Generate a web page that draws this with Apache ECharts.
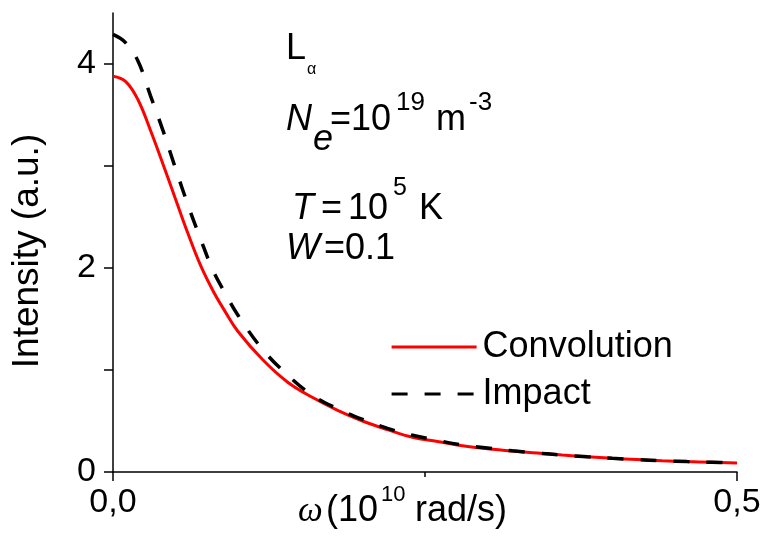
<!DOCTYPE html>
<html>
<head>
<meta charset="utf-8">
<script src="https://cdn.jsdelivr.net/npm/echarts@6/dist/echarts.min.js"></script>
<style>
html,body{margin:0;padding:0;background:#fff;}
#chart{width:764px;height:538px;}
</style>
</head>
<body>
<div id="chart"></div>
<script>
const omega = [0, 0.01, 0.02, 0.03, 0.04, 0.05, 0.06, 0.07, 0.08, 0.09, 0.10, 0.12, 0.14, 0.16, 0.18, 0.20, 0.22, 0.24, 0.26, 0.28, 0.30, 0.32, 0.34, 0.36, 0.38, 0.40, 0.42, 0.44, 0.46, 0.48, 0.50];
const convolution = [3.88, 3.83, 3.65, 3.35, 3.02, 2.68, 2.34, 2.03, 1.78, 1.57, 1.38, 1.10, 0.88, 0.73, 0.605, 0.50, 0.415, 0.34, 0.30, 0.257, 0.228, 0.205, 0.186, 0.166, 0.149, 0.134, 0.122, 0.111, 0.102, 0.095, 0.088];
const impact = [4.29, 4.21, 4.03, 3.69, 3.35, 2.98, 2.62, 2.29, 1.98, 1.75, 1.54, 1.20, 0.95, 0.75, 0.62, 0.515, 0.428, 0.36, 0.31, 0.265, 0.235, 0.208, 0.186, 0.166, 0.149, 0.134, 0.122, 0.111, 0.102, 0.095, 0.088];
const xTickLabels = [0, 0.5];
const yTicks = [0, 1, 2, 3, 4];
const yTickLabels = [0, 2, 4];

const sans = 'Liberation Sans, Arial, sans-serif';
const chart = echarts.init(document.getElementById('chart'));

function txt(text, x, y, fs, opts) {
  return Object.assign({
    type: 'text', x: x, y: y, silent: true,
    style: Object.assign({
      text: text, fontSize: fs, fontFamily: sans, fill: '#000',
      align: 'left', verticalAlign: 'middle'
    }, (opts && opts.style) || {})
  }, (opts && opts.el) || {});
}
const it = { style: { fontStyle: 'italic' } };

chart.setOption({
  animation: false,
  backgroundColor: '#fff',
  grid: { left: 113, right: 27, top: 13, bottom: 66 },
  xAxis: {
    type: 'value', min: 0, max: 0.5, interval: 0.5,
    axisLine: { show: true, lineStyle: { color: '#000', width: 1.5 } },
    axisTick: { show: true, length: 9, lineStyle: { color: '#000', width: 1.5 } },
    minorTick: { show: true, splitNumber: 2, length: 5, lineStyle: { color: '#000', width: 1.5 } },
    splitLine: { show: false },
    axisLabel: {
      customValues: xTickLabels,
      fontSize: 34, fontFamily: sans, color: '#000', margin: 14,
      formatter: v => v.toFixed(1).replace('.', ',')
    }
  },
  yAxis: {
    type: 'value', min: 0, max: 4.5, interval: 1,
    axisLine: { show: true, lineStyle: { color: '#000', width: 1.5 } },
    axisTick: { show: true, customValues: yTicks, length: 9, lineStyle: { color: '#000', width: 1.5 } },
    splitLine: { show: false },
    axisLabel: {
      customValues: yTickLabels,
      fontSize: 34, fontFamily: sans, color: '#000', margin: 17,
      formatter: v => String(v)
    }
  },
  legend: {
    orient: 'vertical', left: 385, top: 324,
    itemWidth: 85, itemHeight: 2, itemGap: 11,
    lineStyle: { width: 3.2 },
    textStyle: { fontSize: 36, fontFamily: sans, color: '#000', padding: [0, 0, 0, 1] },
    data: ['Convolution', 'Impact']
  },
  series: [
    {
      name: 'Convolution', type: 'line', smooth: 0.4, showSymbol: false, symbol: 'none',
      data: omega.map((x, i) => [x, convolution[i]]),
      lineStyle: { color: '#ff0000', width: 3 }, itemStyle: { color: '#ff0000' }
    },
    {
      name: 'Impact', type: 'line', smooth: 0.4, showSymbol: false, symbol: 'none',
      data: omega.map((x, i) => [x, impact[i]]),
      lineStyle: { color: '#000', width: 3.5, type: [16, 17] }, itemStyle: { color: '#000' }
    }
  ],
  graphic: [
    // y axis title
    txt('Intensity (a.u.)', 28, 251, 37, { el: { rotation: Math.PI / 2 }, style: { align: 'center' } }),
    // x axis title
    txt('\u03c9', 298, 512, 35, { style: { fontFamily: 'Liberation Serif, serif', fontStyle: 'italic' } }),
    txt('(10', 326, 511, 36),
    txt('10', 381, 495, 22),
    txt('rad/s)', 415, 511, 36),
    // annotations
    txt('L', 286, 49.4, 36),
    txt('\u03b1', 307, 70, 16),
    txt('N', 286, 120.4, 36, it),
    txt('e', 313, 140.4, 36, it),
    txt('=10', 330, 120.4, 36),
    txt('19', 396, 103, 26),
    txt('m', 436, 120.4, 36),
    txt('-3', 469, 103, 26),
    txt('T', 292, 209.4, 36, it),
    txt('=', 321, 209.4, 36),
    txt('10', 348, 209.4, 36),
    txt('5', 393, 188, 25),
    txt('K', 419, 209.4, 36),
    txt('W', 286, 249.4, 36, it),
    txt('=0.1', 324, 249.4, 36)
  ]
});
</script>
</body>
</html>
